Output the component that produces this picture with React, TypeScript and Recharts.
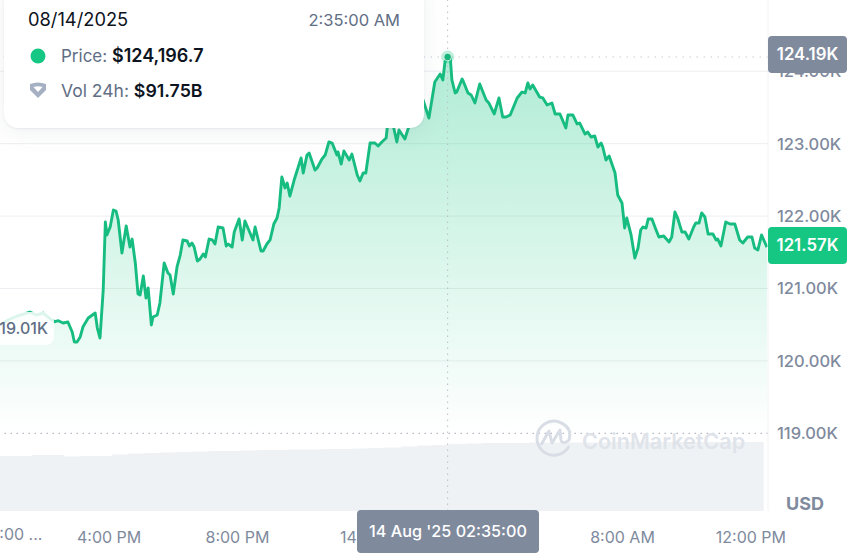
import React from "react";
import { ComposedChart, Area, Line, XAxis, YAxis, CartesianGrid, ReferenceLine, ReferenceDot } from "recharts";

// minutes relative to 14 Aug 2025 00:00
const priceMinutes = [-684,-669,-652,-639,-628,-616,-603,-590,-581,-575,-566,-557,-549,-545,-540,-534,-529,-519,-506,-502,-497,-491,-487,-484,-478,-472,-467,-463,-456,-448,-441,-437,-431,-426,-422,-416,-411,-407,-401,-398,-390,-385,-377,-370,-366,-360,-353,-347,-342,-334,-330,-325,-321,-315,-310,-304,-300,-293,-287,-282,-276,-267,-261,-257,-250,-246,-237,-231,-226,-211,-207,-196,-192,-185,-179,-172,-166,-162,-157,-151,-147,-142,-134,-121,-117,-110,-106,-95,-91,-82,-76,-69,-63,-54,-52,-46,-41,-31,-26,-16,-11,-5,0,8,17,23,30,38,40,49,58,62,73,79,92,101,107,118,129,139,144,148,153,158,161,167,170,180,182,191,197,204,213,225,230,240,249,256,262,270,283,292,298,303,307,312,325,331,339,348,354,363,374,378,387,395,400,410,415,421,428,434,440,443,449,455,466,471,479,484,488,496,503,509,514,518,524,528,535,542,548,557,567,572,578,583,591,597,604,613,617,623,628,634,640,649,655,658,664,673,681,690,699,705,714,722,727,733,740,750];
const priceValues = [120496,120565,120620,120648,120675,120634,120661,120579,120541,120555,120523,120537,120399,120261,120261,120330,120468,120592,120661,120454,120316,120979,121918,121739,121849,122084,122070,121946,121490,121863,121573,121683,121352,120924,120910,121172,120869,121007,120496,120606,120634,120800,121352,121214,121186,120924,121297,121462,121670,121656,121587,121628,121573,121380,121407,121476,121435,121683,121670,121614,121849,121835,121587,121614,121573,121780,121960,121670,121932,121670,121849,121518,121518,121614,121670,121891,121973,122112,122540,122388,122457,122277,122498,122802,122595,122843,122871,122636,122664,122788,122843,123023,123009,122843,122885,122719,122899,122774,122857,122567,122484,122595,122595,123009,123009,122968,123023,123078,123216,123327,123023,123189,123064,123203,123396,123534,123603,123354,123852,123962,123879,124128,124196.7,124180,123879,123700,123713,123893,123865,123700,123672,123562,123824,123603,123562,123410,123631,123368,123368,123396,123631,123713,123700,123838,123755,123810,123644,123631,123534,123562,123410,123410,123216,123396,123396,123272,123285,123133,123161,123092,123106,122954,123009,122954,122774,122830,122595,122291,122181,121835,121973,121739,121421,121559,121808,121849,121835,121960,121960,121822,121711,121725,121642,121711,122056,121973,121780,121780,121683,121849,121904,121904,122043,121987,121752,121752,121670,121683,121587,121918,121891,121891,121670,121628,121711,121711,121559,121531,121739,121570];
const volumeMinutes = [-684,-654,-624,-594,-564,-534,-504,-474,-444,-414,-384,-354,-324,-294,-264,-234,-204,-174,-144,-114,-84,-54,-24,6,36,66,96,126,156,186,216,246,276,306,336,366,396,426,456,486,516,546,576,606,636,666,696,726,744];
const volumeBillions = [74.2,74.2,75.5,75.5,73.5,74.2,74.2,76.2,77.6,78.2,78.9,79.6,80.3,80.9,80.9,81.6,82.3,82.3,83,83,83.6,83.6,84.3,85,85.7,87,88.4,89,90.4,91.1,91.75,91.75,91.75,92.4,92.4,92.4,92.4,92.4,93.1,93.1,93.1,93.1,93.1,93.1,93.1,93.1,93.1,93.1,93.1];
const priceTicks = [119000, 120000, 121000, 122000, 123000, 124000];
const gridTicks = [120000, 121000, 122000, 123000, 124000];
const timeTicks = [-480, -240, 0, 240, 480, 720];
const timeLabels = ["4:00 PM", "8:00 PM", "14 Aug", "4:00 AM", "8:00 AM", "12:00 PM"];

const priceData = priceMinutes.map((t, i) => ({ t, price: priceValues[i] }));
const volumeData = volumeMinutes.map((t, i) => ({ t, vol: volumeBillions[i] }));

const FONT = "Inter, 'Noto Sans', sans-serif";
const GREEN = "#16c784";
const GREY = "#808a9d";

const box = (s: React.CSSProperties): React.CSSProperties => ({ position: "absolute", whiteSpace: "nowrap", ...s });

const PeakDot = (p: any) => (
  <g>
    <circle cx={p.cx} cy={p.cy} r={6.5} fill="#16c784" fillOpacity={0.28} />
    <circle cx={p.cx} cy={p.cy} r={3.8} fill="#17b57b" stroke="#e8f8f1" strokeWidth={0.8} />
  </g>
);

export default function App() {
  return (
    <div style={{ position: "absolute", left: 0, top: 0, width: 849, height: 555, overflow: "hidden", background: "#fff", fontFamily: FONT }}>
      <ComposedChart width={849} height={555} data={priceData} margin={{ top: 0, right: 0, bottom: 0, left: 0 }}>
        <defs>
          <linearGradient id="priceFill" x1="0" y1="0" x2="0" y2="1">
            <stop offset="0%" stopColor={GREEN} stopOpacity={0.34} />
            <stop offset="100%" stopColor={GREEN} stopOpacity={0} />
          </linearGradient>
        </defs>
        <XAxis
          dataKey="t"
          type="number"
          domain={[-684, 752]}
          allowDataOverflow
          ticks={timeTicks}
          interval={0}
          height={44}
          tickLine={false}
          axisLine={false}
          tickMargin={15}
          tick={{ fontSize: 16, fill: GREY, fontFamily: FONT }}
          tickFormatter={(v: number) => timeLabels[timeTicks.indexOf(v)]}
        />
        <YAxis
          yAxisId="price"
          orientation="right"
          domain={[117927, 124984]}
          allowDataOverflow
          ticks={priceTicks}
          interval={0}
          width={81}
          tickLine={false}
          tickSize={0}
          tickMargin={9}
          axisLine={{ stroke: "#eff2f5" }}
          tick={{ fontSize: 16.5, fill: GREY, fontFamily: FONT, fontWeight: 500 }}
          tickFormatter={(v: number) => (v / 1000).toFixed(2) + "K"}
        />
        <YAxis yAxisId="vol" hide domain={[0, 689.5]} allowDataOverflow />
        <Area yAxisId="vol" data={volumeData} dataKey="vol" type="stepAfter" stroke="none" fill="#eff2f5" fillOpacity={1} isAnimationActive={false} dot={false} activeDot={false} />
        <Area yAxisId="price" dataKey="price" baseValue={119000} type="linear" stroke="none" fill="url(#priceFill)" fillOpacity={1} isAnimationActive={false} dot={false} activeDot={false} />
        <CartesianGrid yAxisId="price" vertical={false} horizontalValues={gridTicks} stroke="#808a9d" strokeOpacity={0.14} />
        <ReferenceLine yAxisId="price" y={119000} stroke="#a1a7b3" strokeWidth={1} strokeDasharray="1.5 4.5" />
        <ReferenceLine yAxisId="price" y={124196.7} stroke="#c5cad3" strokeWidth={1} strokeDasharray="1.5 5.5" />
        <ReferenceLine yAxisId="price" x={153} stroke="#b8bec9" strokeWidth={1} strokeDasharray="1.5 4.5" />
        <Line yAxisId="price" dataKey="price" type="linear" stroke="#17bd80" strokeWidth={2.9} dot={false} activeDot={false} isAnimationActive={false} strokeLinejoin="round" />
        <ReferenceDot yAxisId="price" x={153} y={124196.7} shape={PeakDot} />
      </ComposedChart>

      {/* Left edge price pill */}
      <div style={box({ left: -20, top: 312, width: 74, height: 33, background: "rgba(255,255,255,0.85)", borderRadius: 8, color: "#616e85", fontSize: 16, fontWeight: 500, lineHeight: "33px", textAlign: "right", paddingRight: 6, boxSizing: "border-box" })}>119.01K</div>
      {/* Clipped first time label */}
      <div style={box({ left: -17, top: 524, color: GREY, fontSize: 16, lineHeight: "20px" })}>12:00 ...</div>

      {/* Watermark */}
      <svg style={{ position: "absolute", left: 530, top: 416, overflow: "visible" }} width={44} height={44}>
        <path d="M38.5 31 A17 17 0 1 1 39.8 16" fill="none" stroke="#d9dde5" strokeWidth={3} strokeLinecap="round" />
        <path d="M11 29 L19 15 L22 27 L30 14 L31 24 C32 28 36 27 39 24 L40 18" fill="none" stroke="#d9dde5" strokeWidth={3} strokeLinejoin="round" />
      </svg>
      <div style={box({ left: 582, top: 427, color: "#dfe3ea", fontSize: 21.6, fontWeight: 600, lineHeight: "28px" })}>CoinMarketCap</div>

      {/* Tooltip card */}
      <div style={box({ left: 4, top: -20, width: 420, height: 148, background: "#fff", borderRadius: 14, boxShadow: "0 4px 24px rgba(88,102,126,0.09), 0 1px 2px rgba(88,102,126,0.10)" })} />
      <div style={box({ left: 28, top: 9, color: "#0d1421", fontSize: 18.3, lineHeight: "20px" })}>08/14/2025</div>
      <div style={box({ right: 449, top: 10, color: "#616e85", fontSize: 16.5, lineHeight: "20px" })}>2:35:00 AM</div>
      <svg style={{ position: "absolute", left: 30, top: 48 }} width={16} height={16}><circle cx={8} cy={8} r={7.5} fill={GREEN} /></svg>
      <div style={box({ left: 61, top: 46, color: "#616e85", fontSize: 17, lineHeight: "20px" })}>
        Price: <span style={{ color: "#0d1421", fontWeight: 600, fontSize: 18 }}>$124,196.7</span>
      </div>
      <svg style={{ position: "absolute", left: 28, top: 81 }} width={20} height={20}>
        <path d="M2 3 Q10 0 18 3 L18 9 L10 17 L2 9 Z" fill="#a6b0c3" />
        <path d="M5.5 6 Q10 4.5 14.5 6 L10 11 Z" fill="#fff" />
      </svg>
      <div style={box({ left: 61, top: 81, color: "#616e85", fontSize: 17.5, lineHeight: "20px" })}>
        Vol 24h: <span style={{ color: "#0d1421", fontWeight: 600, fontSize: 17.8 }}>$91.75B</span>
      </div>

      {/* Right axis badges */}
      <div style={box({ left: 768, top: 36, width: 79, height: 37, background: GREY, borderRadius: 4, color: "#fff", fontSize: 16.8, fontWeight: 600, lineHeight: "37px", textAlign: "center" })}>124.19K</div>
      <div style={box({ left: 768, top: 227, width: 79, height: 37, background: GREEN, borderRadius: 4, color: "#fff", fontSize: 16.8, fontWeight: 600, lineHeight: "37px", textAlign: "center" })}>121.57K</div>
      <div style={box({ left: 786, top: 494, color: GREY, fontSize: 18, fontWeight: 700, lineHeight: "20px" })}>USD</div>

      {/* Bottom time badge */}
      <div style={box({ left: 357, top: 510, width: 182, height: 43, background: GREY, borderRadius: 4, color: "#fff", fontSize: 16.2, fontWeight: 500, lineHeight: "43px", textAlign: "center" })}>14 Aug '25 02:35:00</div>
    </div>
  );
}
